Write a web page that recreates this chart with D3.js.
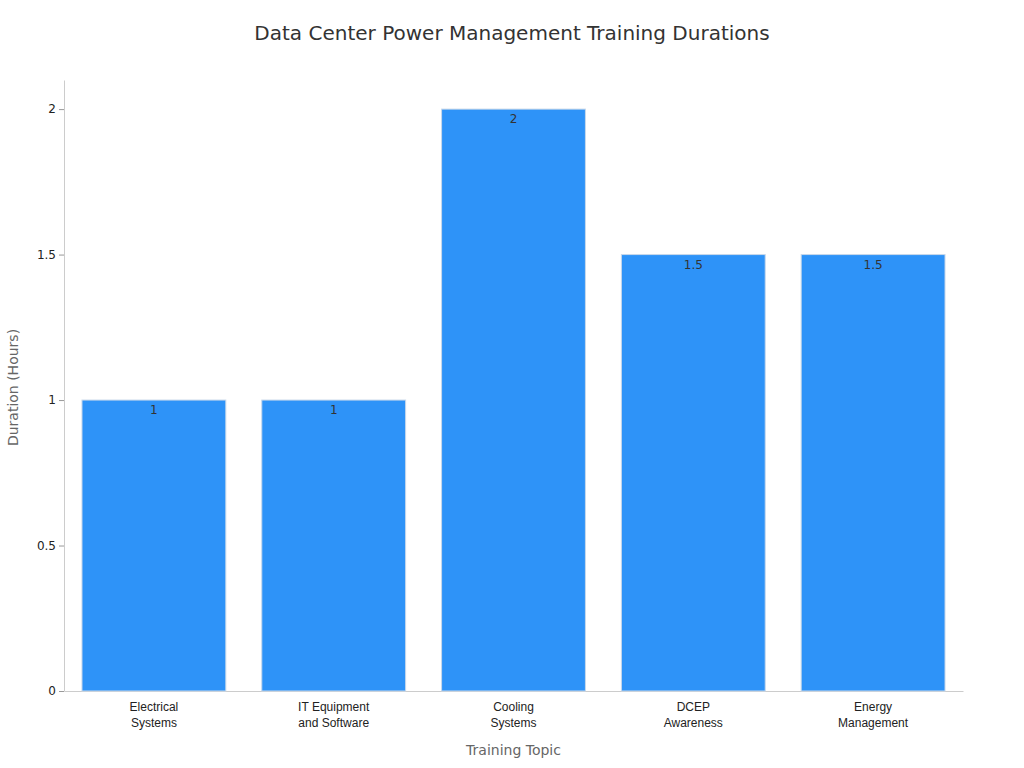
<!DOCTYPE html>
<html><head><meta charset="utf-8">
<script src="https://cdn.jsdelivr.net/npm/d3@7"></script>
<style>body{margin:0;background:#fff;font-family:"DejaVu Sans",sans-serif}</style>
</head><body><svg id="c" width="1024" height="768"></svg>
<script>
const categories = [["Electrical","Systems"],["IT Equipment","and Software"],["Cooling","Systems"],["DCEP","Awareness"],["Energy","Management"]];
const values = [1,1,2,1.5,1.5];
const yTicks = [0,0.5,1,1.5,2];

const svg = d3.select("#c");
const m = {l:64, r:963, t:80, b:691};
const x = d3.scaleBand().domain(categories.map((d,i)=>i)).range([m.l,m.r]).paddingInner(0.2).paddingOuter(0.1);
const y = d3.scaleLinear().domain([0,2.1]).range([m.b,m.t]);

svg.append("text").attr("x",512).attr("y",40).attr("text-anchor","middle")
  .attr("font-size",20).attr("fill","#333").text("Data Center Power Management Training Durations");

const ya = svg.append("g").attr("transform",`translate(${m.l},0)`)
  .call(d3.axisLeft(y).tickValues(yTicks).tickFormat(d=>String(d)).tickSize(5).tickSizeOuter(0));
ya.select(".domain").attr("stroke","#ccc");
ya.selectAll(".tick line").attr("stroke","#999");
ya.selectAll(".tick text").attr("font-size",12).attr("fill","#222").attr("font-family","DejaVu Sans");

const xa = svg.append("g").attr("transform",`translate(0,${m.b})`)
  .call(d3.axisBottom(x).tickSize(0).tickFormat(""));
xa.select(".domain").attr("stroke","#ccc");
xa.selectAll(".tick").each(function(d){
  const t = d3.select(this).append("text").attr("fill","#222").attr("font-size",12).attr("text-anchor","middle");
  categories[d].forEach((s,j)=>t.append("tspan").attr("x",0).attr("y",20+j*16).text(s));
});

svg.selectAll("rect.bar").data(values).join("rect").attr("class","bar")
  .attr("x",(d,i)=>x(i)).attr("width",x.bandwidth())
  .attr("y",d=>y(d)).attr("height",d=>y(0)-y(d))
  .attr("fill","#2e93f8").attr("stroke","#c8d8ea").attr("stroke-width",1);

svg.selectAll("text.lbl").data(values).join("text").attr("class","lbl")
  .attr("x",(d,i)=>x(i)+x.bandwidth()/2).attr("y",d=>y(d)+14)
  .attr("text-anchor","middle").attr("font-size",12).attr("fill","#333").text(d=>d);

svg.append("text").attr("x",(m.l+m.r)/2).attr("y",755).attr("text-anchor","middle")
  .attr("font-size",14).attr("fill","#666").text("Training Topic");
svg.append("text").attr("transform",`translate(18,${(m.t+m.b)/2+2}) rotate(-90)`).attr("text-anchor","middle")
  .attr("font-size",14).attr("fill","#666").text("Duration (Hours)");
</script></body></html>
